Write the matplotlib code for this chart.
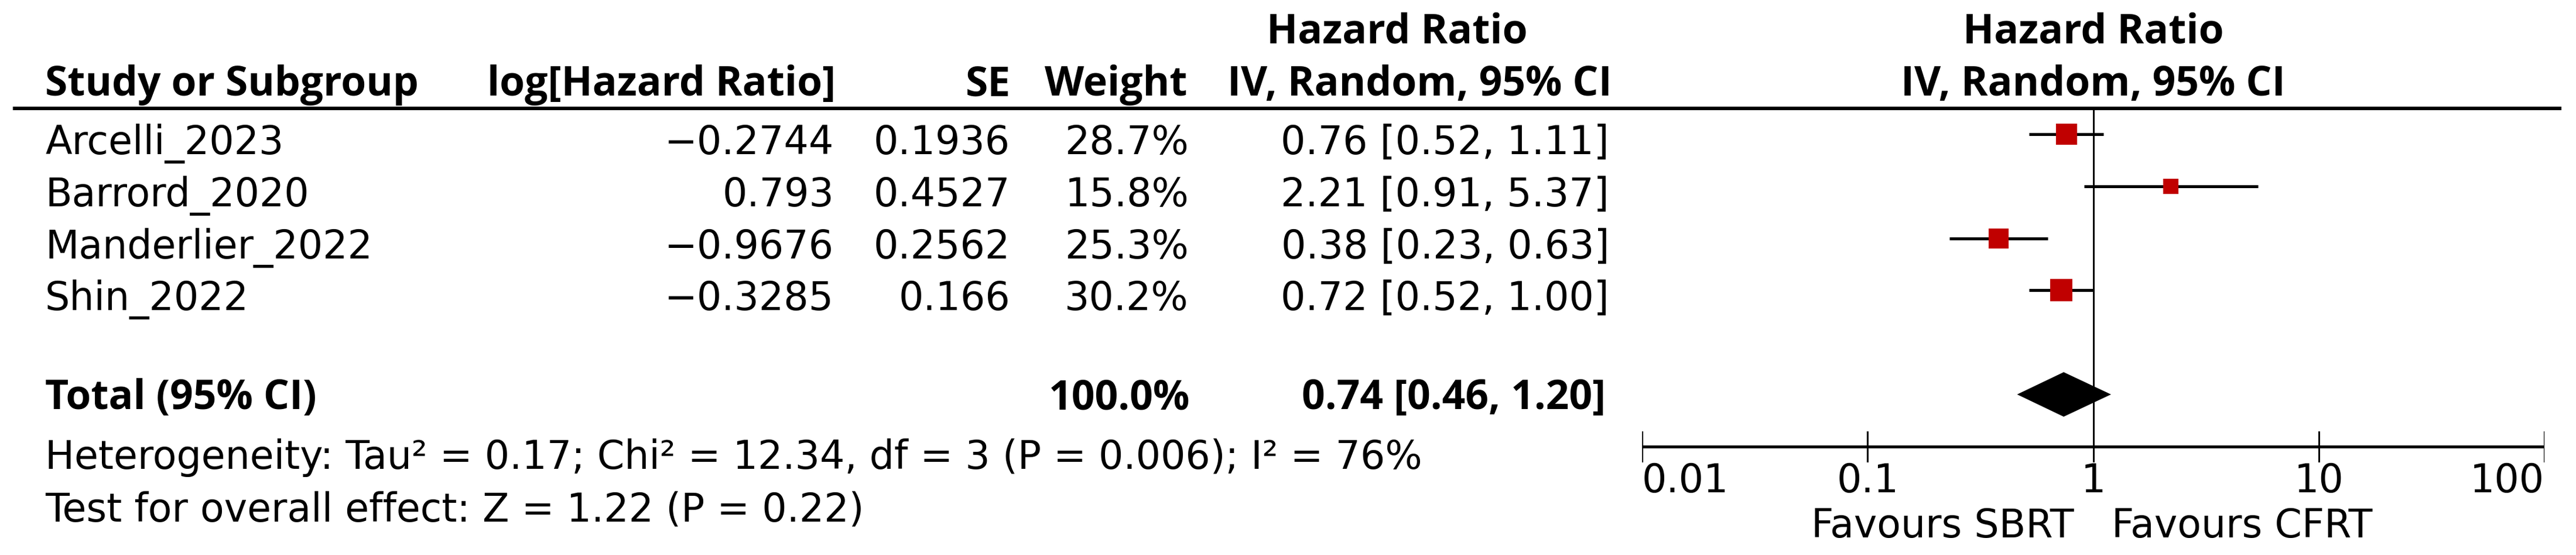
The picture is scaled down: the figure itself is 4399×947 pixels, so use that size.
import matplotlib
matplotlib.use("Agg")
import matplotlib.pyplot as plt
from matplotlib.transforms import offset_copy

# ---------------- data ----------------
studies = ["Arcelli_2023", "Barrord_2020", "Manderlier_2022", "Shin_2022"]
log_hr = [-0.2744, 0.793, -0.9676, -0.3285]
se = [0.1936, 0.4527, 0.2562, 0.166]
weights = [28.7, 15.8, 25.3, 30.2]
hr = [0.76, 2.21, 0.38, 0.72]
ci_low = [0.52, 0.91, 0.23, 0.52]
ci_high = [1.11, 5.37, 0.63, 1.00]
total_hr, total_low, total_high = 0.74, 0.46, 1.20
total_weight = 100.0
tick_values = [0.01, 0.1, 1, 10, 100]
tick_labels = ["0.01", "0.1", "1", "10", "100"]
heterogeneity_text = "Heterogeneity: Tau² = 0.17; Chi² = 12.34, df = 3 (P = 0.006); I² = 76%"
overall_text = "Test for overall effect: Z = 1.22 (P = 0.22)"
favours_left, favours_right = "Favours SBRT", "Favours CFRT"

# ---------------- layout (pixels) ----------------
W, H, DPI = 4399, 947, 100
PT = 72.0 / DPI  # points per pixel
plt.rcParams["font.family"] = ["DejaVu Sans"]
FS = 48
BOLD = dict(fontsize=50, fontweight="bold", family=["Open Sans", "DejaVu Sans"])

fig = plt.figure(figsize=(W / DPI, H / DPI), dpi=DPI)
tax = fig.add_axes([0, 0, 1, 1])
tax.set_xlim(0, W)
tax.set_ylim(H, 0)
tax.axis("off")

PX0, PX1 = 2804, 4345
fax = fig.add_axes([PX0 / W, 0, (PX1 - PX0) / W, 1])
fax.set_xscale("log")
fax.set_xlim(tick_values[0], tick_values[-1])
fax.set_ylim(H, 0)
fax.axis("off")

row_y = [229, 318, 407, 495]
total_y = 673
text_off = 34
header1_y, header2_y = 73, 163
line_y = 185
axis_y = 762

X_STUDY, X_LOG, X_SE, X_W, X_HR = 77, 1424, 1725, 2030, 2748


def fmt(v):
    return str(v).replace("-", "\u2212")


# headers
tax.text(2386, header1_y, "Hazard Ratio", ha="center", va="baseline", **BOLD)
tax.text(X_STUDY, header2_y, "Study or Subgroup", ha="left", va="baseline", **BOLD)
tax.text(X_LOG + 3, header2_y, "log[Hazard Ratio]", ha="right", va="baseline", **BOLD)
tax.text(X_SE + 1, header2_y, "SE", ha="right", va="baseline", **BOLD)
tax.text(X_W - 3, header2_y, "Weight", ha="right", va="baseline", **BOLD)
tax.text(X_HR + 5, header2_y, "IV, Random, 95% CI", ha="right", va="baseline", **BOLD)
fax.text(1, header1_y, "Hazard Ratio", ha="center", va="baseline", **BOLD)
fax.text(1, header2_y, "IV, Random, 95% CI", ha="center", va="baseline", **BOLD)
tax.plot([22, 4374], [line_y, line_y], color="black", lw=6 * PT, solid_capstyle="butt")

# study rows
for i, s in enumerate(studies):
    yb = row_y[i] + text_off
    tax.text(X_STUDY, yb, s, fontsize=FS, ha="left", va="baseline")
    tax.text(X_LOG, yb, fmt(log_hr[i]), fontsize=FS, ha="right", va="baseline")
    tax.text(X_SE, yb, fmt(se[i]), fontsize=FS, ha="right", va="baseline")
    tax.text(X_W, yb, f"{weights[i]:.1f}%", fontsize=FS, ha="right", va="baseline")
    tax.text(X_HR, yb, f"{hr[i]:.2f} [{ci_low[i]:.2f}, {ci_high[i]:.2f}]", fontsize=FS, ha="right", va="baseline")
    fax.plot([ci_low[i], ci_high[i]], [row_y[i], row_y[i]], color="black", lw=5 * PT, solid_capstyle="butt", zorder=3)
    side_px = 6.75 * weights[i] ** 0.5
    fax.plot([hr[i]], [row_y[i]], marker="s", color="#c00000", markersize=side_px * PT, markeredgewidth=0, zorder=4)

# total row
tb = total_y + 25
tax.text(X_STUDY, tb, "Total (95% CI)", ha="left", va="baseline", **BOLD)
tax.text(X_W + 2, tb, f"{total_weight:.1f}%", ha="right", va="baseline", **BOLD)
tax.text(X_HR - 6, tb, f"{total_hr:.2f} [{total_low:.2f}, {total_high:.2f}]", ha="right", va="baseline", **BOLD)
dh = 38
fax.fill([total_low, total_hr, total_high, total_hr], [total_y, total_y - dh, total_y, total_y + dh], color="black", lw=0, zorder=4)

tax.text(X_STUDY, 800, heterogeneity_text, fontsize=FS, ha="left", va="baseline")
tax.text(X_STUDY, 889, overall_text, fontsize=FS, ha="left", va="baseline")

# null line and axis
fax.plot([1, 1], [line_y, 787], color="black", lw=3 * PT, zorder=2)
fax.plot([tick_values[0], tick_values[-1]], [axis_y, axis_y], color="black", lw=5 * PT, solid_capstyle="butt")
for v, lab in zip(tick_values, tick_labels):
    fax.plot([v, v], [737, 787], color="black", lw=3 * PT)
    ha = "left" if v == tick_values[0] else ("right" if v == tick_values[-1] else "center")
    fax.text(v, 840, lab, fontsize=FS, ha=ha, va="baseline")

fax.text(1, 917, favours_left, fontsize=FS, ha="right", va="baseline",
         transform=offset_copy(fax.transData, fig=fig, x=-33 * PT, y=0, units="points"))
fax.text(1, 917, favours_right, fontsize=FS, ha="left", va="baseline",
         transform=offset_copy(fax.transData, fig=fig, x=32 * PT, y=0, units="points"))

fig.savefig("out.png", dpi=DPI)
